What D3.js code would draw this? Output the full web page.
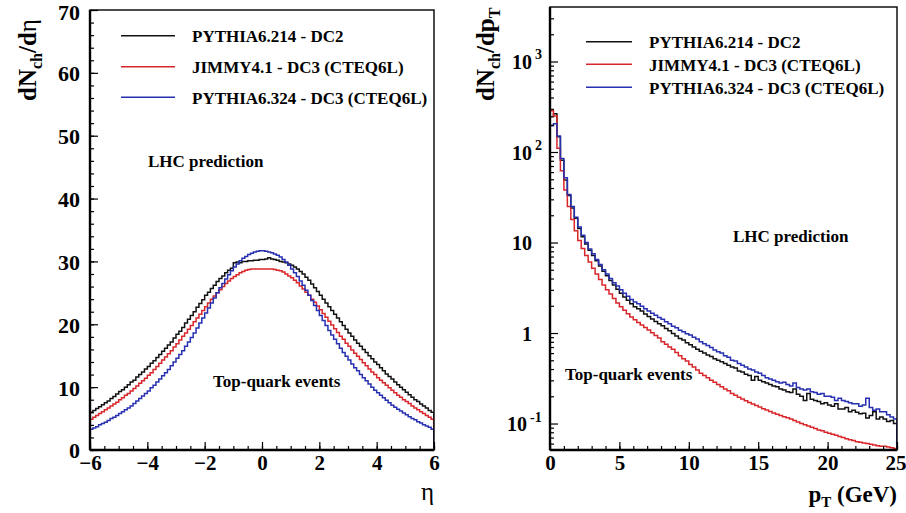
<!DOCTYPE html>
<html>
<head>
<meta charset="utf-8">
<script src="https://cdn.jsdelivr.net/npm/d3@7"></script>
<style>
  body { margin: 0; background: #fff; }
  text { font-family: "Liberation Serif", "Times New Roman", serif; font-weight: bold; fill: #000; }
</style>
</head>
<body>
<svg id="chart" width="906" height="513"></svg>
<script>
"use strict"

// ---- data ----
const seriesNames = ["PYTHIA6.214 - DC2", "JIMMY4.1 - DC3 (CTEQ6L)", "PYTHIA6.324 - DC3 (CTEQ6L)"];
const seriesColors = ["#111111", "#d8262b", "#2630b0"];

// dNch/deta, 120 bins of 0.1 from -6 to 6
const etaLow = -6, etaBin = 0.1;
const etaPythia6214 = [
  6.0, 6.3, 6.6, 6.9, 7.2, 7.5, 7.8, 8.2, 8.5, 8.9,
  9.3, 9.6, 10.0, 10.4, 10.8, 11.1, 11.6, 12.0, 12.4, 12.9,
  13.3, 13.8, 14.2, 14.7, 15.2, 15.7, 16.2, 16.7, 17.2, 17.8,
  18.4, 18.9, 19.5, 20.2, 20.8, 21.4, 22.0, 22.7, 23.3, 23.9,
  24.6, 25.1, 25.7, 26.2, 26.8, 27.3, 27.7, 28.2, 28.6, 28.9,
  29.8, 29.9, 29.8, 30.0, 30.0, 30.1, 30.1, 30.2, 30.2, 30.3,
  30.3, 30.4, 30.6, 30.4, 30.3, 30.2, 30.0, 29.9, 29.8, 29.6,
  29.4, 29.1, 28.8, 28.4, 28.0, 27.5, 27.0, 26.4, 25.8, 25.2,
  24.6, 24.0, 23.4, 22.8, 22.2, 21.6, 21.0, 20.4, 19.8, 19.2,
  18.6, 18.1, 17.5, 17.0, 16.5, 16.0, 15.5, 15.0, 14.5, 14.0,
  13.6, 13.1, 12.6, 12.1, 11.7, 11.3, 10.8, 10.4, 10.0, 9.6,
  9.2, 8.8, 8.4, 8.0, 7.7, 7.3, 7.0, 6.7, 6.3, 6.0
];
const etaJimmy = [
  4.9, 5.2, 5.5, 5.8, 6.1, 6.4, 6.7, 7.0, 7.3, 7.6,
  8.0, 8.3, 8.7, 9.0, 9.4, 9.8, 10.2, 10.6, 11.0, 11.4,
  11.9, 12.3, 12.8, 13.3, 13.8, 14.3, 14.8, 15.3, 15.8, 16.4,
  16.9, 17.5, 18.1, 18.6, 19.2, 19.8, 20.4, 21.0, 21.6, 22.2,
  22.8, 23.4, 24.0, 24.5, 25.0, 25.5, 26.0, 26.5, 26.9, 27.3,
  27.6, 27.9, 28.2, 28.4, 28.6, 28.7, 28.8, 28.8, 28.8, 28.8,
  28.8, 28.8, 28.8, 28.8, 28.7, 28.6, 28.5, 28.3, 28.0, 27.7,
  27.4, 27.0, 26.6, 26.1, 25.6, 25.1, 24.6, 24.0, 23.5, 22.9,
  22.3, 21.7, 21.1, 20.5, 19.9, 19.3, 18.7, 18.1, 17.6, 17.0,
  16.5, 15.9, 15.4, 14.9, 14.4, 13.9, 13.4, 12.9, 12.4, 12.0,
  11.5, 11.1, 10.7, 10.3, 9.9, 9.5, 9.1, 8.7, 8.4, 8.0,
  7.7, 7.4, 7.0, 6.7, 6.4, 6.1, 5.8, 5.5, 5.2, 4.9
];
const etaPythia6324 = [
  3.3, 3.5, 3.7, 4.0, 4.2, 4.4, 4.7, 5.0, 5.2, 5.5,
  5.8, 6.1, 6.4, 6.7, 7.0, 7.4, 7.8, 8.2, 8.6, 9.0,
  9.4, 9.9, 10.3, 10.8, 11.3, 11.8, 12.3, 12.8, 13.4, 14.0,
  14.6, 15.2, 15.8, 16.5, 17.2, 17.9, 18.6, 19.4, 20.2, 21.0,
  21.8, 22.6, 23.4, 24.2, 25.0, 25.8, 26.5, 27.2, 27.9, 28.5,
  29.1, 29.6, 30.1, 30.5, 30.8, 31.1, 31.3, 31.5, 31.6, 31.7,
  31.7, 31.6, 31.5, 31.4, 31.2, 31.0, 30.7, 30.3, 29.9, 29.4,
  28.8, 28.2, 27.6, 26.9, 26.2, 25.4, 24.6, 23.8, 23.0, 22.2,
  21.4, 20.6, 19.8, 19.0, 18.3, 17.6, 16.9, 16.2, 15.5, 14.9,
  14.3, 13.7, 13.1, 12.6, 12.0, 11.5, 11.0, 10.5, 10.0, 9.5,
  9.1, 8.7, 8.3, 7.9, 7.5, 7.1, 6.8, 6.5, 6.2, 5.9,
  5.6, 5.3, 5.0, 4.8, 4.5, 4.3, 4.0, 3.8, 3.6, 3.3
];

// dNch/dpT, 100 bins of 0.25 GeV from 0 to 25
const ptLow = 0, ptBin = 0.25;
const ptPythia6214 = [
  245, 265, 147, 81, 49, 33, 24, 18.5,
  14.3, 11.6, 9.6, 8.2, 7.2, 6.3, 5.5, 4.8,
  4.3, 3.8, 3.4, 3.05, 2.75, 2.5, 2.3, 2.1,
  1.95, 1.85, 1.75, 1.62, 1.52, 1.43, 1.34, 1.27,
  1.2, 1.12, 1.06, 0.99, 0.93, 0.87, 0.84, 0.78,
  0.74, 0.70, 0.66, 0.63, 0.60, 0.57, 0.55, 0.52,
  0.50, 0.48, 0.46, 0.44, 0.42, 0.41, 0.38, 0.37,
  0.35, 0.34, 0.30, 0.33, 0.30, 0.29, 0.28, 0.27,
  0.26, 0.255, 0.24, 0.235, 0.225, 0.22, 0.24, 0.21,
  0.20, 0.18, 0.215, 0.185, 0.18, 0.175, 0.165, 0.17,
  0.16, 0.155, 0.165, 0.145, 0.145, 0.15, 0.135, 0.14,
  0.133, 0.128, 0.13, 0.115, 0.123, 0.135, 0.112, 0.118,
  0.112, 0.105, 0.108, 0.100
];
const ptJimmy = [
  285, 250, 110, 62, 38, 25, 18, 13.5,
  10.5, 8.6, 7.2, 6.1, 5.2, 4.5, 3.9, 3.4,
  3.0, 2.7, 2.4, 2.15, 1.95, 1.78, 1.63, 1.5,
  1.4, 1.31, 1.23, 1.15, 1.08, 1.01, 0.94, 0.88,
  0.80, 0.75, 0.70, 0.66, 0.61, 0.56, 0.52, 0.49,
  0.45, 0.42, 0.39, 0.36, 0.34, 0.32, 0.30, 0.285,
  0.27, 0.255, 0.24, 0.23, 0.215, 0.205, 0.195, 0.187,
  0.179, 0.171, 0.164, 0.158, 0.152, 0.146, 0.141, 0.136,
  0.131, 0.127, 0.123, 0.119, 0.116, 0.112, 0.108, 0.104,
  0.10, 0.097, 0.094, 0.091, 0.088, 0.085, 0.083, 0.08,
  0.078, 0.076, 0.074, 0.072, 0.070, 0.068, 0.066, 0.065,
  0.063, 0.062, 0.061, 0.060, 0.059, 0.058, 0.057, 0.056,
  0.056, 0.055, 0.054, 0.053
];
const ptPythia6324 = [
  195, 205, 150, 85, 52, 34, 25, 19,
  14.8, 12, 10, 8.5, 7.5, 6.5, 5.7, 5.0,
  4.5, 4.0, 3.6, 3.3, 3.0, 2.75, 2.55, 2.35,
  2.2, 2.1, 1.98, 1.86, 1.75, 1.65, 1.57, 1.48,
  1.42, 1.33, 1.27, 1.19, 1.14, 1.07, 1.03, 0.98,
  0.95, 0.9, 0.86, 0.8, 0.76, 0.73, 0.69, 0.65,
  0.62, 0.6, 0.56, 0.54, 0.5, 0.49, 0.46, 0.44,
  0.42, 0.4, 0.39, 0.37, 0.36, 0.34, 0.32, 0.31,
  0.30, 0.29, 0.28, 0.285, 0.27, 0.26, 0.28, 0.25,
  0.24, 0.235, 0.24, 0.225, 0.22, 0.21, 0.215, 0.2,
  0.2, 0.195, 0.18, 0.19, 0.18, 0.175, 0.17, 0.165,
  0.165, 0.155, 0.16, 0.19, 0.15, 0.14, 0.145, 0.135,
  0.135, 0.125, 0.118, 0.112
];

// tick values and labels
const etaMajorTicks = [-6, -4, -2, 0, 2, 4, 6];
const etaYMajorTicks = [0, 10, 20, 30, 40, 50, 60, 70];
const ptMajorTicks = [0, 5, 10, 15, 20, 25];
const ptYMajorTicks = [0.1, 1, 10, 100, 1000];
const ptYTickBase = ["10", "1", "10", "10", "10"];
const ptYTickExp = ["-1", "", "", "2", "3"];

const svg = d3.select("#chart");

function stepPoints(lo, width, vals, base) {
  let pts = [[lo, base]];
  vals.forEach((v, i) => {
    pts.push([lo + i * width, v]);
    pts.push([lo + (i + 1) * width, v]);
  });
  pts.push([lo + vals.length * width, base]);
  return pts;
}

function drawPanel(id, x, y, series, lo, width, base) {
  let [x0, x1] = x.range(), [y0, y1] = y.range();
  svg.append("clipPath").attr("id", id)
    .append("rect").attr("x", x0).attr("y", y1).attr("width", x1 - x0).attr("height", y0 - y1);

  let line = d3.line().x(d => x(d[0])).y(d => y(d[1]));
  let g = svg.append("g").attr("clip-path", "url(#" + id + ")");
  series.forEach((vals, i) => {
    g.append("path")
      .attr("d", line(stepPoints(lo, width, vals, base)))
      .attr("fill", "none")
      .attr("stroke", seriesColors[i])
      .attr("stroke-width", 1.5);
  });
}

function drawFrame(x, y) {
  let [x0, x1] = x.range(), [y0, y1] = y.range();
  svg.append("rect").attr("x", x0).attr("y", y1).attr("width", x1 - x0).attr("height", y0 - y1)
    .attr("fill", "none").attr("stroke", "#000").attr("stroke-width", 1.4);
  svg.append("line").attr("x1", x0).attr("x2", x0).attr("y1", y1).attr("y2", y0)
    .attr("stroke", "#000").attr("stroke-width", 2.4);
  svg.append("line").attr("x1", x0).attr("x2", x1).attr("y1", y0).attr("y2", y0)
    .attr("stroke", "#000").attr("stroke-width", 2.4);
}

function cleanAxis(g) {
  g.select(".domain").remove();
  g.selectAll("line").attr("stroke", "#000").attr("stroke-width", 1.2);
}

function drawLegend(lineX0, lineX1, textX, ys) {
  seriesNames.forEach((name, i) => {
    svg.append("line").attr("x1", lineX0).attr("x2", lineX1).attr("y1", ys[i]).attr("y2", ys[i])
      .attr("stroke", seriesColors[i]).attr("stroke-width", 1.5);
    svg.append("text").attr("x", textX).attr("y", ys[i] + 6.5)
      .attr("font-size", 17).text(name);
  });
}

// ---------------- left panel: eta ----------------
const xEta = d3.scaleLinear([-6, 6], [90, 434]);
const yEta = d3.scaleLinear([0, 70], [450, 10]);

drawPanel("clipEta", xEta, yEta, [etaPythia6214, etaJimmy, etaPythia6324], etaLow, etaBin, 0);

svg.append("g").attr("transform", "translate(0,450)")
  .call(d3.axisBottom(xEta).tickValues(d3.range(-6, 6.01, 0.5)).tickSize(-4).tickFormat(""))
  .call(cleanAxis);
svg.append("g").attr("transform", "translate(0,450)")
  .call(d3.axisBottom(xEta).tickValues(etaMajorTicks).tickSize(-8).tickPadding(5).tickFormat(d3.format("d")))
  .call(cleanAxis)
  .selectAll("text").attr("font-size", 21);
svg.append("g").attr("transform", "translate(90,0)")
  .call(d3.axisLeft(yEta).tickValues(d3.range(0, 70.1, 2)).tickSize(-4).tickFormat(""))
  .call(cleanAxis);
let etaYAxis = svg.append("g").attr("transform", "translate(90,0)")
  .call(d3.axisLeft(yEta).tickValues(etaYMajorTicks).tickSize(-8).tickPadding(10))
  .call(cleanAxis);
etaYAxis.selectAll("text").attr("font-size", 22).attr("dy", "0.36em");
// top label touches the page edge, nudge it down a little
etaYAxis.selectAll("text").filter(d => d === 70).attr("dy", "0.45em");

drawFrame(xEta, yEta);
drawLegend(121, 175, 192, [35.7, 66.7, 97.3]);

svg.append("text").attr("x", 148).attr("y", 167).attr("font-size", 17).text("LHC prediction");
svg.append("text").attr("x", 213).attr("y", 387).attr("font-size", 17).text("Top-quark events");
svg.append("text").attr("x", 434).attr("y", 500).attr("text-anchor", "end")
  .attr("font-size", 25).style("font-weight", "normal").text("η");

let yTitleL = svg.append("text").attr("transform", "translate(36,101) rotate(-90)").attr("font-size", 25);
yTitleL.append("tspan").text("dN");
yTitleL.append("tspan").attr("font-size", 16).attr("dy", 6).text("ch");
yTitleL.append("tspan").attr("dy", -6).text("/d");
yTitleL.append("tspan").style("font-weight", "normal").text("η");

// ---------------- right panel: pT ----------------
const xPt = d3.scaleLinear([0, 25], [550, 897]);
const yPt = d3.scaleLog([0.051, 4000], [450, 7]);

drawPanel("clipPt", xPt, yPt, [ptPythia6214, ptJimmy, ptPythia6324], ptLow, ptBin, 0.051);

svg.append("g").attr("transform", "translate(0,450)")
  .call(d3.axisBottom(xPt).tickValues(d3.range(0, 25.01, 1)).tickSize(-4).tickFormat(""))
  .call(cleanAxis);
let ptXAxis = svg.append("g").attr("transform", "translate(0,450)")
  .call(d3.axisBottom(xPt).tickValues(ptMajorTicks).tickSize(-8).tickPadding(5).tickFormat(d3.format("d")))
  .call(cleanAxis);
ptXAxis.selectAll("text").attr("font-size", 21);
// last label sits against the page edge, keep it inside
ptXAxis.selectAll("text").filter(d => d === 25).attr("text-anchor", "end").attr("x", 9);

let ptMinor = [];
[0.01, 0.1, 1, 10, 100, 1000].forEach(dec => {
  for (let m = 2; m <= 9; m++) {
    let v = dec * m;
    if (v > 0.051 && v < 4000) ptMinor.push(v);
  }
});
svg.append("g").attr("transform", "translate(550,0)")
  .call(d3.axisLeft(yPt).tickValues(ptMinor).tickSize(-4).tickFormat(""))
  .call(cleanAxis);
svg.append("g").attr("transform", "translate(550,0)")
  .call(d3.axisLeft(yPt).tickValues(ptYMajorTicks).tickSize(-8).tickFormat(""))
  .call(cleanAxis);

ptYMajorTicks.forEach((v, i) => {
  let baseX = ptYTickExp[i] === "-1" ? 527 : 532;
  svg.append("text").attr("x", baseX).attr("y", yPt(v) + 7.5)
    .attr("text-anchor", "end").attr("font-size", 20).text(ptYTickBase[i]);
  if (ptYTickExp[i]) {
    svg.append("text").attr("x", baseX + 3).attr("y", yPt(v) - 2)
      .attr("font-size", 14).text(ptYTickExp[i]);
  }
});

drawFrame(xPt, yPt);
drawLegend(586, 632, 649, [41.7, 64.3, 87.3]);

svg.append("text").attr("x", 733).attr("y", 242).attr("font-size", 17).text("LHC prediction");
svg.append("text").attr("x", 565).attr("y", 380).attr("font-size", 17).text("Top-quark events");

let xTitleR = svg.append("text").attr("x", 897).attr("y", 502).attr("text-anchor", "end").attr("font-size", 23);
xTitleR.append("tspan").text("p");
xTitleR.append("tspan").attr("font-size", 15).attr("dy", 5).text("T");
xTitleR.append("tspan").attr("dy", -5).text(" (GeV)");

let yTitleR = svg.append("text").attr("transform", "translate(494,101) rotate(-90)").attr("font-size", 25);
yTitleR.append("tspan").text("dN");
yTitleR.append("tspan").attr("font-size", 16).attr("dy", 6).text("ch");
yTitleR.append("tspan").attr("dy", -6).text("/dp");
yTitleR.append("tspan").attr("font-size", 16).attr("dy", 6).text("T");
</script>
</body>
</html>
